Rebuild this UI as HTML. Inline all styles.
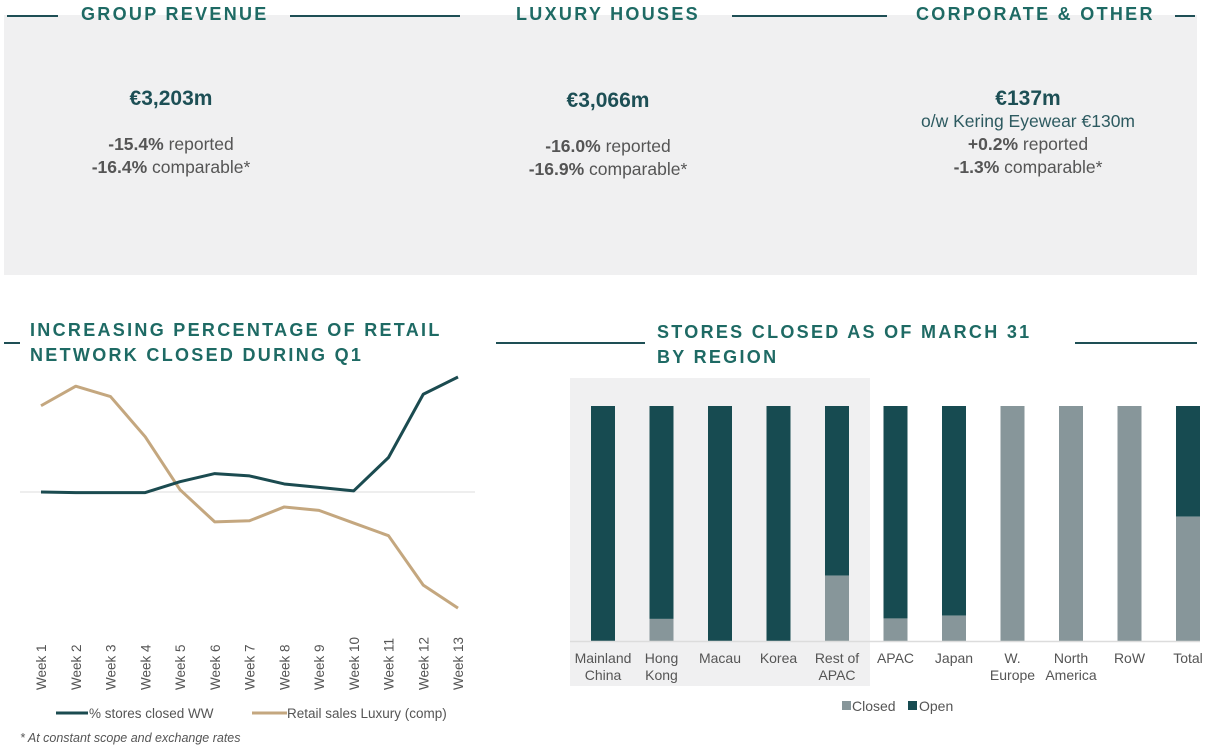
<!DOCTYPE html>
<html><head><meta charset="utf-8"><style>
body{margin:0;width:1222px;height:746px;background:#fff;font-family:"Liberation Sans",sans-serif;position:relative;overflow:hidden}
.abs{position:absolute}
.box{left:4px;top:15px;width:1193px;height:260px;background:#f0f0f1}
.ttl{color:#1e6a64;font-weight:bold;font-size:18px;letter-spacing:2.3px;white-space:nowrap}
.hl{height:2px;background:#1e4f55}
.col{text-align:center;color:#555;font-size:17.5px;line-height:23px}
.big{color:#1d4f55;font-weight:bold;font-size:21px}
.col b{color:#555}
</style></head><body>
<div class="abs box"></div>
<div class="abs hl" style="left:7px;top:15px;width:51px"></div>
<div class="abs ttl" style="left:81px;top:4px">GROUP REVENUE</div>
<div class="abs hl" style="left:290px;top:15px;width:170px"></div>
<div class="abs ttl" style="left:516px;top:4px">LUXURY HOUSES</div>
<div class="abs hl" style="left:732px;top:15px;width:155px"></div>
<div class="abs ttl" style="left:916px;top:4px">CORPORATE &amp; OTHER</div>
<div class="abs hl" style="left:1175px;top:15px;width:20px"></div>

<div class="abs col" style="left:21px;width:300px;top:87px">
<div class="big">€3,203m</div><div style="height:23px"></div>
<div><b>-15.4%</b> reported</div><div><b>-16.4%</b> comparable*</div></div>
<div class="abs col" style="left:458px;width:300px;top:89px">
<div class="big">€3,066m</div><div style="height:23px"></div>
<div><b>-16.0%</b> reported</div><div><b>-16.9%</b> comparable*</div></div>
<div class="abs col" style="left:878px;width:300px;top:87px">
<div class="big">€137m</div><div style="color:#2d5a60">o/w Kering Eyewear €130m</div>
<div><b>+0.2%</b> reported</div><div><b>-1.3%</b> comparable*</div></div>

<div class="abs hl" style="left:4px;top:342px;width:16px"></div>
<div class="abs ttl" style="left:30px;top:318px;line-height:25px">INCREASING PERCENTAGE OF RETAIL<br>NETWORK CLOSED DURING Q1</div>
<div class="abs hl" style="left:496px;top:342px;width:149px"></div>
<div class="abs ttl" style="left:657px;top:320px;line-height:25px">STORES CLOSED AS OF MARCH 31<br>BY REGION</div>
<div class="abs hl" style="left:1075px;top:342px;width:122px"></div>

<svg class="abs" style="left:0;top:0" width="1222" height="746">
<g id="line"></g><g id="bars"></g>
</svg>
<div class="abs" style="left:20px;top:731px;font-size:12.5px;font-style:italic;color:#555">* At constant scope and exchange rates</div>
<script>
const weeks=["Week 1","Week 2","Week 3","Week 4","Week 5","Week 6","Week 7","Week 8","Week 9","Week 10","Week 11","Week 12","Week 13"];
const storesClosed=[0,-0.5,-0.5,-0.5,9,16,14,7,4,1,30,85,100];
const retailSales=[75,92,83,48,2,-26,-25,-13,-16,-27,-38,-81,-101];
const regions=[["Mainland","China"],["Hong","Kong"],["Macau"],["Korea"],["Rest of","APAC"],["APAC"],["Japan"],["W.","Europe"],["North","America"],["RoW"],["Total"]];
const closedPct=[0,9.4,0,0,27.8,9.6,10.8,100,100,100,52.9];
const NS="http://www.w3.org/2000/svg";
function mk(p,t,a){const e=document.createElementNS(NS,t);for(const k in a)e.setAttribute(k,a[k]);p.appendChild(e);return e;}
const L=document.getElementById('line');
const lx=i=>41+i*34.75, ly=v=>492-v*1.15;
let z=mk(L,'line',{x1:20,x2:475,y1:492,y2:492,stroke:'#dcdcdc','stroke-width':1});

function series(vals,col,name){const p=mk(L,'polyline',{points:vals.map((v,i)=>lx(i)+','+ly(v)).join(' '),fill:'none',stroke:col,'stroke-width':3,'stroke-linejoin':'round'});
}
series(retailSales,'#c4a77f','retail-sales-line');
series(storesClosed,'#1b4b50','stores-closed-line');
weeks.forEach((w,i)=>{const t=mk(L,'text',{x:0,y:0,transform:`translate(${lx(i)+5},690) rotate(-90)`,'font-size':13.5,fill:'#555'});t.textContent=w;
});
let lg=mk(L,'line',{x1:56,x2:88,y1:713,y2:713,stroke:'#1b4b50','stroke-width':3});
let lt=mk(L,'text',{x:89,y:718,'font-size':13.5,fill:'#555'});lt.textContent='% stores closed WW';
lg=mk(L,'line',{x1:252,x2:287,y1:713,y2:713,stroke:'#c4a77f','stroke-width':3});
lt=mk(L,'text',{x:287,y:718,'font-size':13.5,fill:'#555'});lt.textContent='Retail sales Luxury (comp)';
const B=document.getElementById('bars');
let bg=mk(B,'rect',{x:570,y:378,width:300,height:308,fill:'#f0f0f1'});
const bx=i=>603+i*58.5, by=p=>641-p*2.35;
regions.forEach((r,i)=>{
 const o=mk(B,'rect',{x:bx(i)-12,y:by(100),width:24,height:by(closedPct[i])-by(100),fill:'#174b51'});
 
 const c=mk(B,'rect',{x:bx(i)-12,y:by(closedPct[i]),width:24,height:by(0)-by(closedPct[i]),fill:'#87969a'});
 
 r.forEach((s,j)=>{const t=mk(B,'text',{x:bx(i),y:663+j*17,'font-size':14,fill:'#555','text-anchor':'middle'});t.textContent=s;
 });
});
let ax=mk(B,'line',{x1:570,x2:1200,y1:641.5,y2:641.5,stroke:'#dcdcdc','stroke-width':1.5});
let s1=mk(B,'rect',{x:842,y:701,width:9,height:9,fill:'#87969a'});
let t1=mk(B,'text',{x:852,y:711,'font-size':14,fill:'#555'});t1.textContent='Closed';
let s2=mk(B,'rect',{x:908,y:701,width:9,height:9,fill:'#174b51'});
let t2=mk(B,'text',{x:919,y:711,'font-size':14,fill:'#555'});t2.textContent='Open';
</script>
</body></html>
